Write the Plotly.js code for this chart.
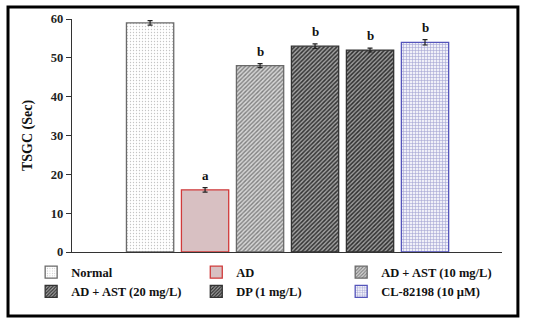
<!DOCTYPE html>
<html>
<head>
<meta charset="utf-8">
<script src="https://cdn.plot.ly/plotly-3.0.1.min.js"></script>
<style>html,body{margin:0;padding:0;background:#fff;}#chart{width:550px;height:323px;}</style>
</head>
<body>
<div id="chart"></div>
<script>
var categories = ["Normal", "AD", "AD + AST (10 mg/L)", "AD + AST (20 mg/L)", "DP (1 mg/L)", "CL-82198 (10 \u00b5M)"];
var values = [59, 16, 48, 53, 52, 54];
var errors = [0.6, 0.6, 0.5, 0.6, 0.5, 0.7];
var letters = ["", "a", "b", "b", "b", "b"];
var yTicks = [0, 10, 20, 30, 40, 50, 60];

var styles = [
  {bg: "#ffffff", fg: "#c4c4c4", shape: ".", size: 3, sol: 0.15, line: "#6a6a6a", legend: "legend"},
  {bg: "#d8c0c2", fg: "#d8c0c2", shape: "", size: 3, sol: 0.3, line: "#d03a3a", legend: "legend2"},
  {bg: "#d6d6d6", fg: "#808080", shape: "/", size: 3, sol: 0.45, line: "#6a6a6a", legend: "legend3"},
  {bg: "#a4a4a4", fg: "#333333", shape: "/", size: 3, sol: 0.5, line: "#333333", legend: "legend"},
  {bg: "#9e9e9e", fg: "#2e2e2e", shape: "/", size: 3, sol: 0.5, line: "#333333", legend: "legend2"},
  {bg: "#f0f0f8", fg: "#a4a4d4", shape: "+", size: 3, sol: 0.35, line: "#5555bb", legend: "legend3"}
];

var FONT = "Liberation Serif, Times New Roman, serif";
var traces = categories.map(function (c, i) {
  var s = styles[i];
  return {
    type: "bar",
    name: c,
    x: [i],
    y: [values[i]],
    width: 0.86,
    legend: s.legend,
    marker: {
      color: s.bg,
      line: {color: s.line, width: 1.3},
      pattern: {shape: s.shape, fgcolor: s.fg, bgcolor: s.bg, size: s.size, solidity: s.sol, fillmode: "replace"}
    },
    error_y: {type: "data", array: [errors[i]], visible: true, color: "#222", thickness: 1.2, width: 2.5},
    hoverinfo: "skip"
  };
});

var annotations = [];
categories.forEach(function (c, i) {
  if (letters[i]) {
    annotations.push({
      x: i, y: values[i] + errors[i], xref: "x", yref: "y",
      text: letters[i], showarrow: false, yanchor: "bottom", yshift: 3,
      font: {family: FONT, size: 13, color: "#111", weight: "bold"}
    });
  }
});

var legendCommon = {
  orientation: "v", yanchor: "top", xanchor: "left",
  font: {family: FONT, size: 12.5, color: "#111", weight: "bold"},
  bgcolor: "rgba(0,0,0,0)", borderwidth: 0, tracegroupgap: 0,
  itemwidth: 30
};

var layout = {
  width: 550, height: 323,
  margin: {l: 72, r: 48, t: 19, b: 71},
  paper_bgcolor: "#fff", plot_bgcolor: "#fff",
  barmode: "overlay",
  showlegend: true,
  xaxis: {range: [-1.42, 6.4], showticklabels: false, ticks: "", showgrid: false, zeroline: false,
          showline: true, linecolor: "#333", linewidth: 1.2, fixedrange: true},
  yaxis: {range: [0, 60], tickvals: yTicks, ticks: "outside", ticklen: 5, tickcolor: "#333",
          showgrid: false, zeroline: false, showline: true, linecolor: "#333", linewidth: 1.2,
          tickfont: {family: FONT, size: 12.5, color: "#222", weight: "bold"},
          title: {text: "TSGC (Sec)", font: {family: FONT, size: 14, color: "#111", weight: "bold"}, standoff: 14}},
  legend: Object.assign({}, legendCommon, {x: -0.095, y: -0.024}),
  legend2: Object.assign({}, legendCommon, {x: 0.289, y: -0.024}),
  legend3: Object.assign({}, legendCommon, {x: 0.626, y: -0.024}),
  annotations: annotations,
  shapes: [{type: "rect", xref: "paper", yref: "paper", x0: -0.1488, x1: 1.037, y0: -0.2747, y1: 1.0515,
            line: {color: "#000", width: 3}, fillcolor: "rgba(0,0,0,0)", layer: "above"}]
};

Plotly.newPlot("chart", traces, layout, {displayModeBar: false, staticPlot: true});
</script>
</body>
</html>
